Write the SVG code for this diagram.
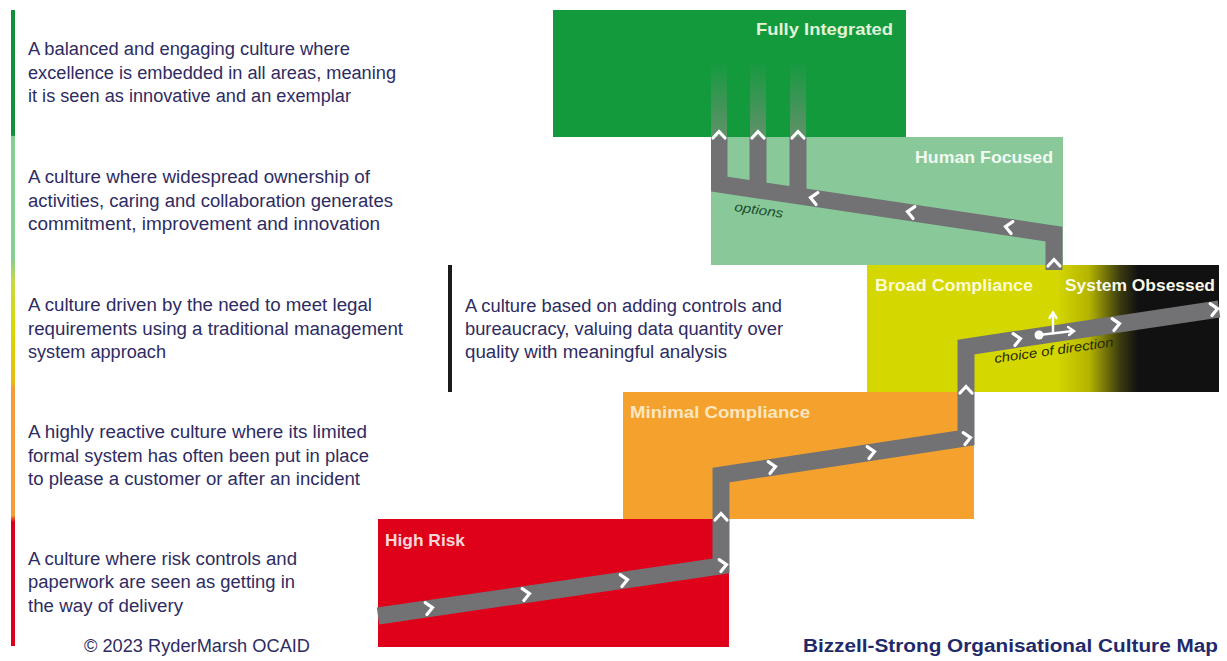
<svg xmlns="http://www.w3.org/2000/svg" width="1227" height="661" viewBox="0 0 1227 661">
<style>
.desc{font-family:"Liberation Sans",Arial,sans-serif;font-size:18px;fill:#2e2c62;}
.lab{font-family:"Liberation Sans",Arial,sans-serif;font-size:17px;font-weight:bold;}
.band{fill:none;stroke:#727275;stroke-width:17;stroke-linejoin:miter;}
.chev{fill:none;stroke:#ffffff;stroke-width:3.2;stroke-linecap:round;stroke-linejoin:miter;}
.note{font-family:"Liberation Sans",Arial,sans-serif;font-style:italic;font-size:13px;}
</style>
<defs>
<linearGradient id="barGrad" x1="0" y1="10" x2="0" y2="646" gradientUnits="userSpaceOnUse">
<stop offset="0" stop-color="#138f3c"/>
<stop offset="0.197" stop-color="#138f3c"/>
<stop offset="0.199" stop-color="#88cc96"/>
<stop offset="0.39" stop-color="#88cc96"/>
<stop offset="0.43" stop-color="#c8da40"/>
<stop offset="0.5" stop-color="#d8d800"/>
<stop offset="0.585" stop-color="#e8bc10"/>
<stop offset="0.595" stop-color="#f39c3a"/>
<stop offset="0.795" stop-color="#f39c3a"/>
<stop offset="0.805" stop-color="#d8001c"/>
<stop offset="1" stop-color="#d8001c"/>
</linearGradient>
<linearGradient id="soGrad" x1="867" y1="0" x2="1219" y2="0" gradientUnits="userSpaceOnUse">
<stop offset="0" stop-color="#d4d700"/>
<stop offset="0.54" stop-color="#d4d700"/>
<stop offset="0.63" stop-color="#b5b400"/>
<stop offset="0.72" stop-color="#3a3a10"/>
<stop offset="0.77" stop-color="#111111"/>
<stop offset="1" stop-color="#111111"/>
</linearGradient>
<linearGradient id="fade" x1="0" y1="137" x2="0" y2="60" gradientUnits="userSpaceOnUse">
<stop offset="0" stop-color="#6f8f72" stop-opacity="0.85"/>
<stop offset="1" stop-color="#6f8f72" stop-opacity="0"/>
</linearGradient>
<clipPath id="hfClip"><rect x="711" y="120" width="360" height="150"/></clipPath>
<path id="chev" class="chev" d="M-4,-6 L2.5,0 L-4,6"/>
</defs>

<rect x="0" y="0" width="1227" height="661" fill="#ffffff"/>

<g id="legend-bar">
<rect x="11" y="10" width="4" height="636" fill="url(#barGrad)"/>
</g>

<g id="desc-fully">
<text class="desc" x="28" y="55" textLength="322" lengthAdjust="spacingAndGlyphs">A balanced and engaging culture where</text>
<text class="desc" x="28" y="79" textLength="368" lengthAdjust="spacingAndGlyphs">excellence is embedded in all areas, meaning</text>
<text class="desc" x="28" y="102" textLength="323" lengthAdjust="spacingAndGlyphs">it is seen as innovative and an exemplar</text>
</g>
<g id="desc-human">
<text class="desc" x="28" y="183" textLength="342" lengthAdjust="spacingAndGlyphs">A culture where widespread ownership of</text>
<text class="desc" x="28" y="207" textLength="365" lengthAdjust="spacingAndGlyphs">activities, caring and collaboration generates</text>
<text class="desc" x="28" y="230" textLength="352" lengthAdjust="spacingAndGlyphs">commitment, improvement and innovation</text>
</g>
<g id="desc-broad">
<text class="desc" x="28" y="311" textLength="344" lengthAdjust="spacingAndGlyphs">A culture driven by the need to meet legal</text>
<text class="desc" x="28" y="335" textLength="375" lengthAdjust="spacingAndGlyphs">requirements using a traditional management</text>
<text class="desc" x="28" y="358" textLength="138" lengthAdjust="spacingAndGlyphs">system approach</text>
</g>
<g id="desc-minimal">
<text class="desc" x="28" y="438" textLength="339" lengthAdjust="spacingAndGlyphs">A highly reactive culture where its limited</text>
<text class="desc" x="28" y="462" textLength="341" lengthAdjust="spacingAndGlyphs">formal system has often been put in place</text>
<text class="desc" x="28" y="485" textLength="332" lengthAdjust="spacingAndGlyphs">to please a customer or after an incident</text>
</g>
<g id="desc-highrisk">
<text class="desc" x="28" y="565" textLength="269" lengthAdjust="spacingAndGlyphs">A culture where risk controls and</text>
<text class="desc" x="28" y="588" textLength="267" lengthAdjust="spacingAndGlyphs">paperwork are seen as getting in</text>
<text class="desc" x="28" y="612" textLength="155" lengthAdjust="spacingAndGlyphs">the way of delivery</text>
</g>
<g id="desc-system">
<rect x="448" y="265" width="4" height="127" fill="#1a1a1a"/>
<text class="desc" x="465" y="312" textLength="317" lengthAdjust="spacingAndGlyphs">A culture based on adding controls and</text>
<text class="desc" x="465" y="335" textLength="318" lengthAdjust="spacingAndGlyphs">bureaucracy, valuing data quantity over</text>
<text class="desc" x="465" y="358" textLength="262" lengthAdjust="spacingAndGlyphs">quality with meaningful analysis</text>
</g>

<g id="node-fully-integrated">
<rect x="553" y="10" width="353" height="127" fill="#129a3d"/>
<rect x="711" y="62" width="16" height="75" fill="url(#fade)"/>
<rect x="750" y="62" width="16" height="75" fill="url(#fade)"/>
<rect x="790" y="62" width="16" height="75" fill="url(#fade)"/>
</g>
<g id="node-human-focused">
<rect x="711" y="137" width="352" height="128" fill="#88c899"/>
</g>
<g id="node-broad-system">
<rect x="867" y="265" width="352" height="127" fill="url(#soGrad)"/>
</g>
<g id="node-minimal">
<rect x="623" y="392" width="351" height="127" fill="#f4a22d"/>
</g>
<g id="node-high-risk">
<rect x="378" y="519" width="351" height="128" fill="#df0019"/>
</g>

<g id="connectors">
<polyline class="band" points="378,616 721,566 721,475 966,438 966,347 1219,309"/>
<g clip-path="url(#hfClip)">
<polyline class="band" points="1054,345 1054,234 705,182"/>
<line class="band" x1="719" y1="137" x2="719" y2="190"/>
<line class="band" x1="758" y1="137" x2="758" y2="192"/>
<line class="band" x1="798" y1="137" x2="798" y2="198"/>
</g>
<g id="chevrons">
<use href="#chev" transform="translate(430,608) rotate(-8.2)"/>
<use href="#chev" transform="translate(527,594) rotate(-8.2)"/>
<use href="#chev" transform="translate(625,580) rotate(-8.2)"/>
<use href="#chev" transform="translate(724,565) rotate(-8.2)"/>
<use href="#chev" transform="translate(721,516) rotate(-90)"/>
<use href="#chev" transform="translate(773,467) rotate(-8.6)"/>
<use href="#chev" transform="translate(872,452) rotate(-8.6)"/>
<use href="#chev" transform="translate(968,438) rotate(-8.6)"/>
<use href="#chev" transform="translate(966,389) rotate(-90)"/>
<use href="#chev" transform="translate(1018,339) rotate(-8.6)"/>
<use href="#chev" transform="translate(1117,324) rotate(-8.6)"/>
<use href="#chev" transform="translate(1215,309) rotate(-8.6)"/>
<use href="#chev" transform="translate(1054,262) rotate(-90)"/>
<use href="#chev" transform="translate(1008,227) rotate(188.5)"/>
<use href="#chev" transform="translate(910,212) rotate(188.5)"/>
<use href="#chev" transform="translate(813,198) rotate(188.5)"/>
<use href="#chev" transform="translate(719,134) rotate(-90)"/>
<use href="#chev" transform="translate(758,134) rotate(-90)"/>
<use href="#chev" transform="translate(798,134) rotate(-90)"/>
</g>
<g id="choice-symbol" stroke="#ffffff" stroke-width="2.4" fill="none" stroke-linecap="round">
<circle cx="1039" cy="335" r="4.5" fill="#ffffff" stroke="none"/>
<line x1="1039" y1="335" x2="1073" y2="331"/>
<polyline points="1068,327 1074,331 1069,335"/>
<line x1="1053" y1="333" x2="1053" y2="313"/>
<polyline points="1049.5,318 1053,312.5 1056.5,318"/>
</g>
</g>

<g id="labels">
<text class="lab" x="756" y="35" fill="#e2f3d8" textLength="137" lengthAdjust="spacingAndGlyphs">Fully Integrated</text>
<text class="lab" x="915" y="163" fill="#f2faf2" textLength="138" lengthAdjust="spacingAndGlyphs">Human Focused</text>
<text class="lab" x="875" y="291" fill="#fdfbd6" textLength="158" lengthAdjust="spacingAndGlyphs">Broad Compliance</text>
<text class="lab" x="1065" y="291" fill="#fafae8" textLength="150" lengthAdjust="spacingAndGlyphs">System Obsessed</text>
<text class="lab" x="630" y="418" fill="#fde6c0" textLength="180" lengthAdjust="spacingAndGlyphs">Minimal Compliance</text>
<text class="lab" x="385" y="546" fill="#fbd6d6" textLength="80" lengthAdjust="spacingAndGlyphs">High Risk</text>
<text class="note" transform="translate(734,211) rotate(8)" fill="#1d4d2b" textLength="49" lengthAdjust="spacingAndGlyphs">options</text>
<text class="note" transform="translate(995,363) rotate(-8)" fill="#26260a" font-size="15" textLength="120" lengthAdjust="spacingAndGlyphs">choice of direction</text>
</g>

<g id="footer">
<text class="desc" x="84" y="652" font-size="17" textLength="226" lengthAdjust="spacingAndGlyphs" fill="#33325e">© 2023 RyderMarsh OCAID</text>
<text x="803" y="652" font-family="Liberation Sans, Arial, sans-serif" font-size="18" font-weight="bold" fill="#1f2a6a" textLength="415" lengthAdjust="spacingAndGlyphs">Bizzell-Strong Organisational Culture Map</text>
</g>
</svg>
